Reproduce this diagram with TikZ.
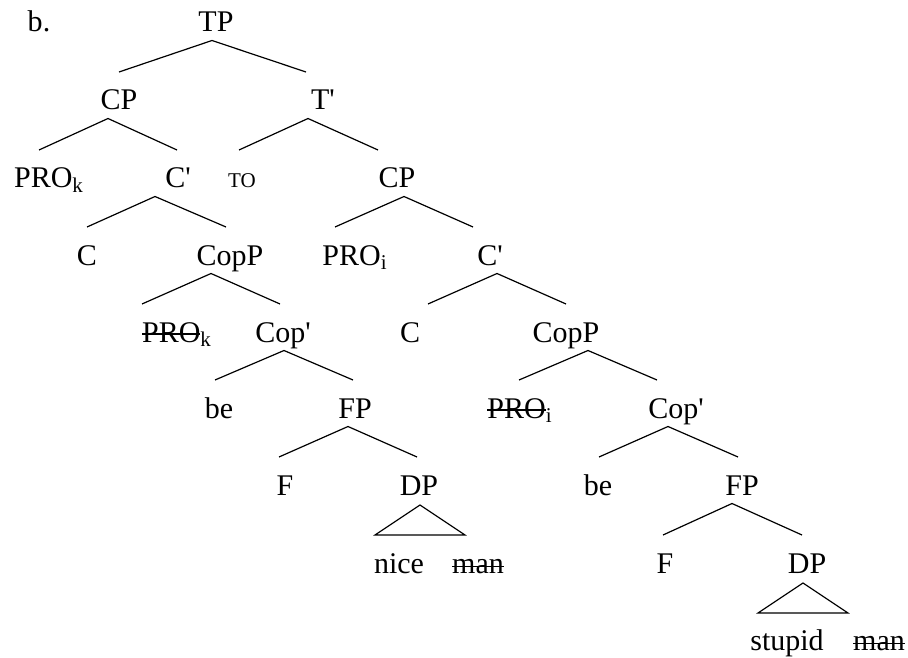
\documentclass[tikz,border=0pt]{standalone}
\usepackage{fontspec}
\setmainfont{Liberation Serif}
\tikzset{
  cat/.style={anchor=base, inner sep=0pt},
  branch/.style={line width=0.6pt},
}
% branch: parent, child, shift of the apex, shift of the lower end
\newcommand{\brk}[4]{\draw[branch] ([xshift=#3,yshift=-4.25pt]#1.base) -- ([xshift=#4,yshift=19pt]#2.base);}
\newcommand{\roof}[2]{\draw[branch] ([xshift=#2,yshift=-5pt]#1.base) -- ++(-22.5pt,-15pt) -- ++(45pt,0) -- cycle;}
\newcommand{\struck}[2][0.24em]{\setbox0\hbox{#2}\rlap{\raise#1\hbox{\vrule width\wd0 height 0.7pt depth 0pt}}\box0}
\newcommand{\prm}{\textquotesingle}
\begin{document}
\begin{tikzpicture}[x=0.5pt, y=-0.5pt, font=\fontsize{15}{18}\selectfont]
    \useasboundingbox (0,0) rectangle (908,657);

    % Label and root
    \node[cat] (lbl) at (39,32) {b.};
    \node[cat] (tp) at (216,32) {TP};

    % Subject CP
    \node[cat] (cpa) at (119,110) {CP};
    \node[cat] (proka) at (49,188) {PRO\textsubscript{k}};
    \node[cat] (cba) at (178,188) {C\prm};
    \node[cat] (ca) at (87,265) {C};
    \node[cat] (coppa) at (230,265) {CopP};
    \node[cat] (prokb) at (177,342) {\struck{PRO}\textsubscript{k}};
    \node[cat] (copba) at (283,342) {Cop\prm};
    \node[cat] (bea) at (219,418) {be};
    \node[cat] (fpa) at (355,418) {FP};
    \node[cat] (fa) at (285,495) {F};
    \node[cat] (dpa) at (419,495) {DP};
    \node[cat] (nicea) at (399,573) {nice};
    \node[cat] (mana) at (478,573) {\struck[0.2em]{man}};

    % T' and its CP
    \node[cat] (tb) at (323,110) {T\prm};
    \node[cat] (to) at (242,188) {\fontsize{10.5}{12}\selectfont TO};
    \node[cat] (cpb) at (397,188) {CP};
    \node[cat] (proia) at (355,265) {PRO\textsubscript{i}};
    \node[cat] (cbb) at (490,265) {C\prm};
    \node[cat] (cb) at (410,342) {C};
    \node[cat] (coppb) at (566,342) {CopP};
    \node[cat] (proib) at (520,418) {\struck{PRO}\textsubscript{i}};
    \node[cat] (copbb) at (676,418) {Cop\prm};
    \node[cat] (beb) at (598,495) {be};
    \node[cat] (fpb) at (742,495) {FP};
    \node[cat] (fb) at (665,573) {F};
    \node[cat] (dpb) at (807,573) {DP};
    \node[cat] (stupid) at (787,650) {stupid};
    \node[cat] (manb) at (879,650) {\struck[0.2em]{man}};

    % Branches
    \brk{tp}{cpa}{-2pt}{0pt}         \brk{tp}{tb}{-2pt}{-8.5pt}
    \brk{cpa}{proka}{-5.5pt}{-5pt}   \brk{cpa}{cba}{-5.5pt}{-0.5pt}
    \brk{cba}{ca}{-11.5pt}{0pt}      \brk{cba}{coppa}{-11.5pt}{-2pt}
    \brk{coppa}{prokb}{-9.5pt}{-17.5pt} \brk{coppa}{copba}{-9.5pt}{-1.5pt}
    \brk{copba}{bea}{0.5pt}{-2pt}    \brk{copba}{fpa}{0.5pt}{-1pt}
    \brk{fpa}{fa}{-3.5pt}{-3pt}      \brk{fpa}{dpa}{-3.5pt}{-1pt}
    \brk{tb}{to}{-7.5pt}{-1.5pt}     \brk{tb}{cpb}{-7.5pt}{-9.5pt}
    \brk{cpb}{proia}{3.5pt}{-10pt}   \brk{cpb}{cbb}{3.5pt}{-8.5pt}
    \brk{cbb}{cb}{3.5pt}{9pt}        \brk{cbb}{coppb}{3.5pt}{0pt}
    \brk{coppb}{proib}{11pt}{-0.5pt} \brk{coppb}{copbb}{11pt}{-9.5pt}
    \brk{copbb}{beb}{-4pt}{0.5pt}    \brk{copbb}{fpb}{-4pt}{-2pt}
    \brk{fpb}{fb}{-5pt}{-1pt}        \brk{fpb}{dpb}{-5pt}{-2.5pt}

    % Roofs over the DPs
    \roof{dpa}{0.5pt}
    \roof{dpb}{-2pt}
\end{tikzpicture}
\end{document}
